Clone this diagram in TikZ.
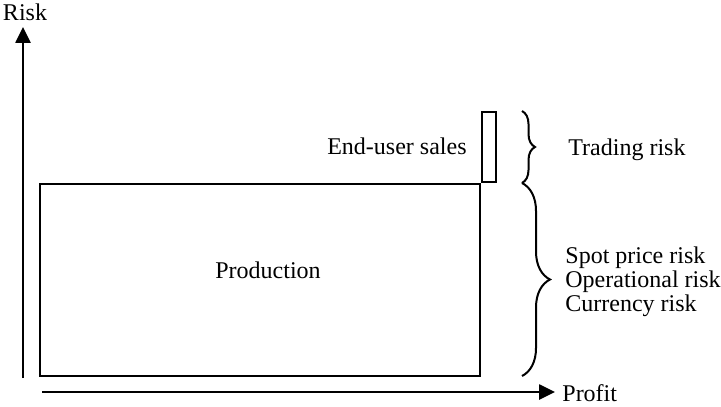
\documentclass[tikz,border=0pt]{standalone}
\usepackage{fontspec}
\setmainfont{Liberation Serif}
\usetikzlibrary{arrows.meta,decorations.pathreplacing,positioning}

\tikzset{
  txt/.style={font=\fontsize{12}{12}\selectfont, inner sep=0pt},
  axis/.style={line width=1.3pt, -{Triangle[length=8pt,width=7.5pt]}},
  block/.style={draw, line width=1.1pt},
  curly/.style={line width=1pt, decorate, decoration={brace, amplitude=#1}}
}

\begin{document}
\begin{tikzpicture}[x=0.5pt, y=-0.5pt]
\useasboundingbox (0,0) rectangle (721,406);

% Axes
\coordinate (yfoot) at (23,378);
\coordinate (ytop) at (23,27);
\coordinate (xfoot) at (42,392);
\coordinate (xend) at (555,392);
\draw[axis] (yfoot) -- (ytop);
\draw[axis] (xfoot) -- (xend);
\node[txt] (risk) at (25,12) {Risk};
\node[txt, anchor=west] (profit) at (562,393) {Profit};

% Production
\node[block, minimum width=220pt, minimum height=96pt] (prod) at (260,280) {};
\node[txt] (prodlbl) at (268,270) {Production};

% End-user sales
\node[block, minimum width=7pt, minimum height=35pt] (sales) at (489,147) {};
\node[txt, anchor=east] (saleslbl) at (467,146) {End-user sales};

% Braces
\coordinate (b1) at (522,111);
\coordinate (b2) at (522,183);
\coordinate (b3) at (522,376);
\draw[curly=6.5pt] (b1) -- (b2);
\draw[curly=14pt] (b2) -- (b3);
\node[txt, anchor=west] (trading) at (568,150) {Trading risk};
\node[txt, anchor=west, align=left] (other) at (565,282)
  {Spot price risk\\Operational risk\\Currency risk};

\end{tikzpicture}
\end{document}
